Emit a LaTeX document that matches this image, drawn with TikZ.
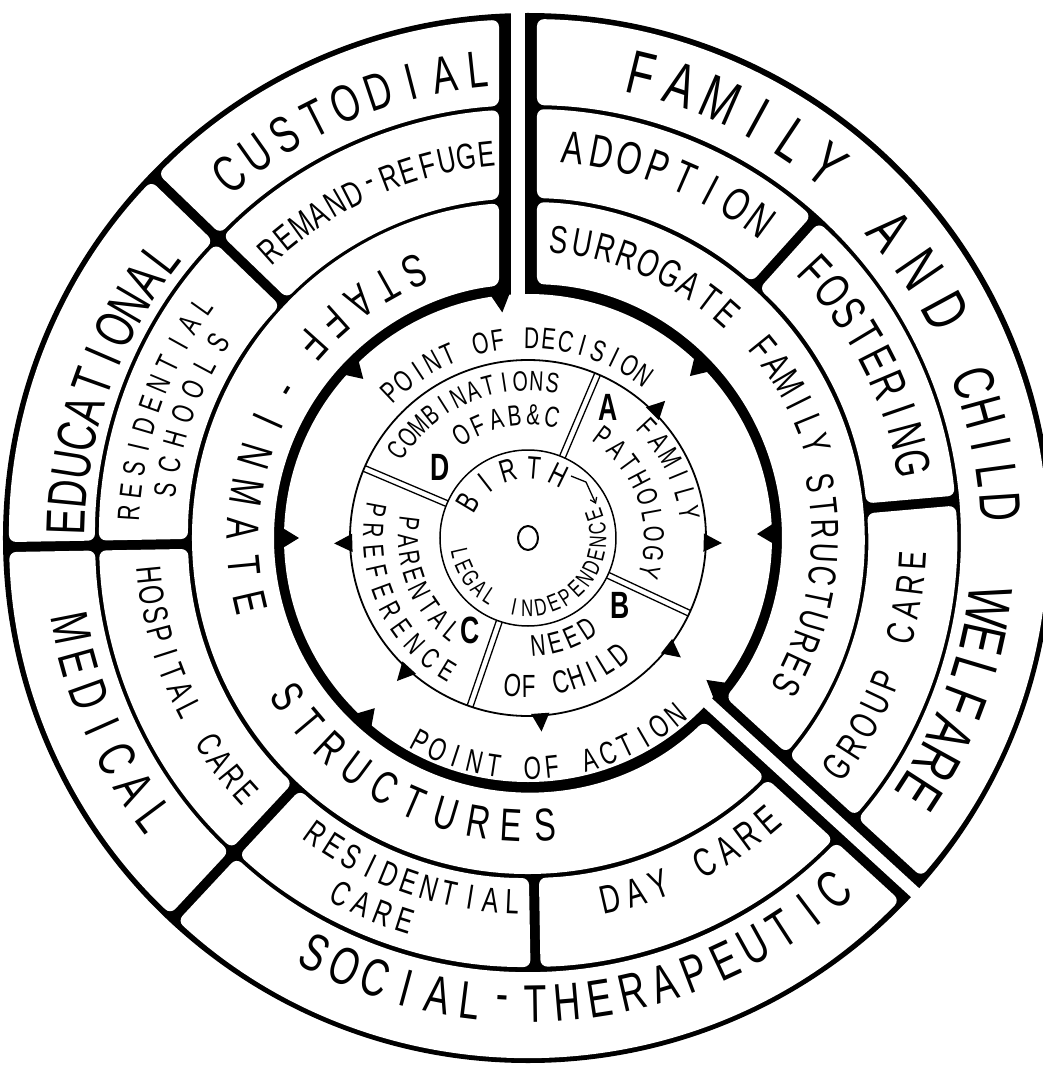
\documentclass[tikz,border=0pt]{standalone}
\usepackage{fontspec}
\setmainfont{Liberation Sans}[FakeStretch=0.7]
\usetikzlibrary{calc,arrows.meta}

\newcommand\ringcell[6]{%
  \pgfmathsetmacro\qA{#1+asin(#2/#6)}%
  \pgfmathsetmacro\qB{#3-asin(#4/#6)}%
  \pgfmathsetmacro\qC{#3-asin(#4/#5)}%
  \pgfmathsetmacro\qD{#1+asin(#2/#5)}%
  \fill[cellstyle] (\qA:#6) arc[start angle=\qA,end angle=\qB,radius=#6]
     -- (\qC:#5) arc[start angle=\qC,end angle=\qD,radius=#5] -- cycle;}
\newcount\chidx
% letters evenly spaced on an arc: #1 radius, #2 first angle, #3 last angle,
% #4 font size, #5 rotation offset (-90 tops outward, 90 tops inward), #6 list
\newcommand\chartext[6]{%
  \foreach \cq [count=\ci] in {#6} {\xdef\nchars{\ci}}%
  \foreach \cq [count=\cj] in {#6} {%
    \global\advance\chidx by 1
    \edef\chname{ch\the\chidx}%
    \pgfmathsetmacro\ang{#2+(#3-(#2))*(\cj-1)/max(\nchars-1,1)}%
    \node[charnode,font=\fontsize{#4}{#4}\selectfont,rotate={\ang+(#5)}] (\chname) at (\ang:#1) {\cq};
  }}
\newcommand\trimark[4]{\fill ({#1+#4}:#2) -- ({#1}:#3) -- ({#1-#4}:#2) -- cycle;}
\newcommand\dblsep[1]{%
  \draw[sepline] ($({#1}:88)+({#1+90}:3)$) -- ($({#1}:178)+({#1+90}:3)$);
  \draw[sepline] ($({#1}:88)+({#1-90}:3)$) -- ($({#1}:178)+({#1-90}:3)$);}

\tikzset{
  cellstyle/.style={white,rounded corners=7pt},
  sepline/.style={line width=1.3pt},
  thinring/.style={line width=1.8pt},
  charnode/.style={inner sep=0pt,anchor=center},
  letter/.style={font=\bfseries\fontsize{38}{38}\selectfont,inner sep=0pt}
}

\begin{document}
\begin{tikzpicture}[x=1pt,y=1pt,line join=round]
\useasboundingbox (-528,-528) rectangle (514,538);
\fill[white] (-528,-528) rectangle (514,538);
\fill[black] (0,0) circle[radius=525];

% outer band
\ringcell{-42.5}{16}{90}{9}{433}{519}
\ringcell{90}{29}{136}{5}{433}{519}
\ringcell{136}{5}{181}{5}{433}{519}
\ringcell{181}{5}{227}{5}{433}{519}
\ringcell{227}{5}{317.5}{16}{433}{519}
% middle band
\ringcell{48}{5}{90}{9}{340}{429}
\ringcell{5}{5}{48}{5}{340}{429}
\ringcell{-42.5}{16}{5}{5}{340}{429}
\ringcell{90}{29}{136}{5}{340}{429}
\ringcell{136}{5}{181}{5}{340}{429}
\ringcell{181}{5}{227}{5}{340}{429}
\ringcell{227}{5}{271}{5}{340}{429}
\ringcell{271}{5}{317.5}{16}{340}{429}
% inner band
\ringcell{-42.5}{16}{90}{9}{254}{336}
\ringcell{90}{29}{317.5}{16}{254}{336}

\fill[white] (0,0) circle[radius=244];
\fill[white] (-17,230) rectangle (-3,540);
\fill[white] ($(-42.5:230)+(47.5:6)$) -- ($(-42.5:540)+(47.5:6)$)
   -- ($(-42.5:540)+(-132.5:6)$) -- ($(-42.5:230)+(-132.5:6)$) -- cycle;

% triangles on the thick circle
\trimark{96.5}{246}{227}{2.3}
\trimark{136}{246}{229}{2.4}
\trimark{180}{246}{229}{2.4}
\trimark{228}{246}{229}{2.4}
\trimark{-38.5}{246}{228}{2.4}
\trimark{1}{246}{229}{2.4}
\trimark{45}{246}{229}{2.4}

\draw[thinring] (0,0) circle[radius=178];
\draw[line width=1.5pt] (0,0) circle[radius=88];
\dblsep{67}
\dblsep{-25}
\dblsep{-109}
\dblsep{157}
\trimark{45}{176}{194}{3}
\trimark{-1.5}{176}{194}{3}
\trimark{-38}{176}{194}{3}
\trimark{-86}{176}{194}{3}
\trimark{227.5}{176}{194}{3}
\trimark{181.6}{176}{194}{3}

\draw[line width=2pt] (0,0) ellipse[x radius=10, y radius=12];
\coordinate (bA) at (43,62);
\coordinate (bB) at (58,56);
\coordinate (bC) at (68,34);
\draw[line width=1.3pt,-{Straight Barb[length=5pt,width=7pt]}] (bA) -- (bB) -- (bC);

\node[letter] (lA) at (80,131) {A};
\node[letter] (lB) at (92,-67) {B};
\node[letter] (lC) at (-58,-92) {C};
\node[letter] (lD) at (-88,71) {D};

% outer band
\chartext{471}{129.4}{96.1}{52}{-90}{C,U,S,T,O,D,I,A,L}
\chartext{478}{76.3}{51.3}{62}{-90}{F,A,M,I,L,Y}
\chartext{475}{40.3}{28.5}{62}{-90}{A,N,D}
\chartext{473}{19.2}{3.8}{58}{-90}{C,H,I,L,D}
\chartext{466}{-8.5}{-32.9}{62}{-90}{W,E,L,F,A,R,E}
\chartext{462}{178}{142.6}{55}{-90}{E,D,U,C,A,T,I,O,N,A,L}
\chartext{466}{191.2}{216.7}{53}{90}{M,E,D,I,C,A,L}
\chartext{466}{242.8}{311}{53}{90}{S,O,C,I,A,L,-,T,H,E,R,A,P,E,U,T,I,C}

% middle band
\chartext{386}{131.9}{96.2}{36}{-90}{R,E,M,A,N,D,-,R,E,F,U,G,E}
\chartext{400}{176.4}{144.6}{31}{-90}{R,E,S,I,D,E,N,T,I,A,L}
\chartext{366}{172.5}{147.8}{31}{-90}{S,C,H,O,O,L,S}
\chartext{380}{185.6}{222}{35}{90}{H,O,S,P,I,T,A,L,~,C,A,R,E}
\chartext{364}{234.4}{267.5}{35}{90}{R,E,S,I,D,E,N,T,I,A,L}
\chartext{402}{242.3}{252.2}{35}{90}{C,A,R,E}
\chartext{370}{282.9}{310.3}{40}{90}{D,A,Y,~,C,A,R,E}
\chartext{393}{83.4}{53.8}{46}{-90}{A,D,O,P,T,I,O,N}
\chartext{392}{43}{11}{49}{-90}{F,O,S,T,E,R,I,N,G}
\chartext{385}{-36.5}{-3.3}{39}{90}{G,R,O,U,P,~,C,A,R,E}

% inner band
\chartext{290}{113}{138}{46}{90}{S,T,A,F,F}
\chartext{288}{148.6}{148.6}{46}{90}{-}
\chartext{285}{155.8}{193}{46}{90}{I,N,M,A,T,E}
\chartext{288}{213.4}{273.4}{46}{90}{S,T,R,U,C,T,U,R,E,S}
\chartext{300}{84}{48.5}{39}{-90}{S,U,R,R,O,G,A,T,E}
\chartext{303}{39}{18.1}{39}{-90}{F,A,M,I,L,Y}
\chartext{297}{10.6}{-29.6}{39}{-90}{S,T,R,U,C,T,U,R,E,S}

% between the circles
\chartext{200}{133.3}{54.5}{30}{-90}{P,O,I,N,T,~,O,F,~,D,E,C,I,S,I,O,N}
\chartext{230}{242.1}{309.8}{32}{90}{P,O,I,N,T,~,O,F,~,A,C,T,I,O,N}

% ABCD ring
\chartext{157}{146}{81}{28}{-90}{C,O,M,B,I,N,A,T,I,O,N,S}
\chartext{123}{122.6}{78.8}{29}{-90}{O,F,A,B,\&,C}
\chartext{163}{43}{8.8}{29}{-90}{F,A,M,I,L,Y}
\chartext{126}{53.7}{-15.6}{29}{-90}{P,A,T,H,O,L,O,G,Y}
\chartext{108}{-84.7}{-56.9}{30}{90}{N,E,E,D}
\chartext{148}{-96}{-52.2}{32}{90}{O,F,~,C,H,I,L,D}
\chartext{155}{169.5}{238.5}{29}{90}{P,R,E,F,E,R,E,N,C,E}
\chartext{120}{173}{230.8}{29}{90}{P,A,R,E,N,T,A,L}
\chartext{70}{149}{64}{32}{-90}{B,I,R,T,H}
\chartext{70}{192.8}{379}{24}{90}{L,E,G,A,L,~,I,N,D,E,P,E,N,D,E,N,C,E}
\end{tikzpicture}
\end{document}
